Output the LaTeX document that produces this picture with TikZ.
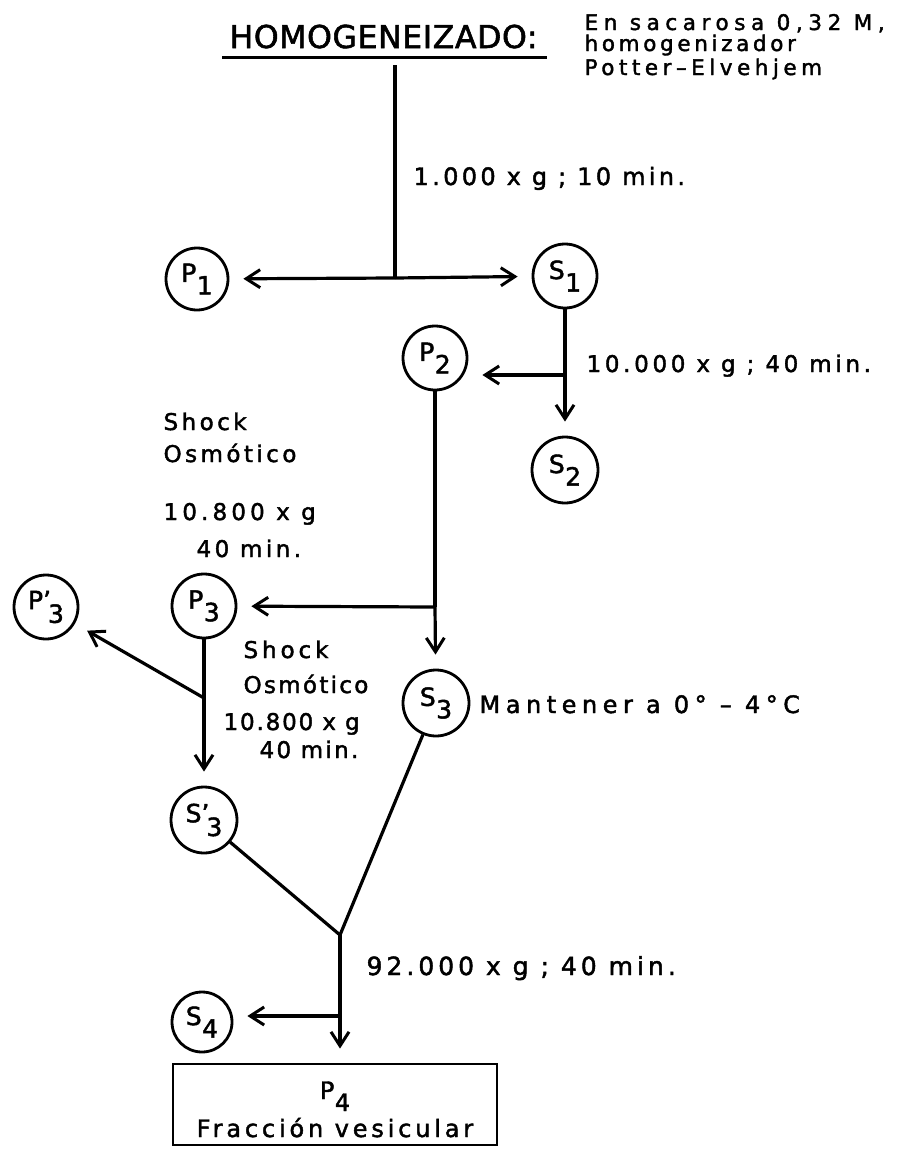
\documentclass[tikz,border=0pt]{standalone}
\usepackage{fontspec}
\setmainfont{DejaVu Sans}[FakeBold=1.8]
\usetikzlibrary{arrows.meta}
\newcommand\fsz[1]{\fontsize{#1}{#1}\selectfont}
\newcommand\ls[1]{\addfontfeature{LetterSpace=#1,FakeBold=1.8}}
\newcommand\subs[2]{#1\kern0.5pt\raisebox{-0.5em}{#2}}
\newcommand\subp[2]{#1'\kern-0.12em\raisebox{-0.55em}{#2}}
\begin{document}
\begin{tikzpicture}[x=1pt,y=-1pt,
  line width=3.2pt,
  circ/.style={circle,draw,line width=2.8pt,minimum size=64pt,inner sep=0pt,font=\fsz{25}\ls{0}},
  txt/.style={anchor=base west,inner sep=0pt,font=\fsz{23}\ls{15}},
  arr/.style={-{Straight Barb[length=14pt,width=18pt,line width=3pt]},shorten >=14pt}]
\useasboundingbox (0,0) rectangle (907,1159);
% header
\node[txt,font=\fsz{31.5}\ls{2}] (hom) at (228,48) {HOMOGENEIZADO:};
\draw[line width=3pt] (hom.base west) ++(-6,9) coordinate (ul1) -- ++(325,0) coordinate (ul2);
\node[txt,font=\fsz{21.5}\ls{26}] (h1) at (583,30) {En sacarosa 0,32 M,};
\node[txt,font=\fsz{21.5}\ls{17}] (h2) at (583,51) {homogenizador};
\node[txt,font=\fsz{21.5}\ls{21}] (h3) at (583,75) {Potter–Elvehjem};
% labels
\node[txt,font=\fsz{24}\ls{14}] (l1) at (412,185) {1.000 x g ; 10 min.};
\node[txt,font=\fsz{23}\ls{16}] (l2) at (585,372) {10.000 x g ; 40 min.};
\node[txt] (l3a) at (162,430) {Shock};
\node[txt] (l3b) at (162,462) {Osmótico};
\node[txt,font=\fsz{23}\ls{18}] (l3c) at (162,520) {10.800 x g};
\node[txt] (l3d) at (195,557) {40 min.};
\node[txt,font=\fsz{23}\ls{17}] (l4a) at (242,658) {Shock};
\node[txt,font=\fsz{23}\ls{10}] (l4b) at (242,693) {Osmótico};
\node[txt,font=\fsz{23}\ls{8}] (l4c) at (222,730) {10.800 x g};
\node[txt,font=\fsz{23}\ls{10}] (l4d) at (258,758) {40 min.};
\node[txt,font=\fsz{24}\ls{23}] (l5) at (478,713) {Mantener a 0° – 4°C};
\node[txt,font=\fsz{25}\ls{16}] (l6) at (365,975) {92.000 x g ; 40 min.};
% circles
\node[circ,minimum size=62pt] (P1) at (197,279) {\subs{P}{1}};
\node[circ] (S1) at (565,276) {\subs{S}{1}};
\node[circ] (P2) at (435,358) {\subs{P}{2}};
\node[circ,minimum size=66pt] (S2) at (565,470) {\subs{S}{2}};
\node[circ] (P3) at (204,606) {\subs{P}{3}};
\node[circ] (P3p) at (46,607) {\subp{P}{3}};
\node[circ,minimum size=66pt] (S3) at (436,703) {\subs{S}{3}};
\node[circ,minimum size=66pt] (S3p) at (204,820) {\subp{S}{3}};
\node[circ,minimum size=60pt] (S4) at (202,1022) {\subs{S}{4}};
\node[draw,line width=2.8pt,minimum width=324pt,minimum height=81pt,inner sep=0pt] (P4) at (335,1104.5) {};
\node[anchor=base,inner sep=0pt,font=\fsz{24}\ls{0}] (P4a) at (335,1099) {\subs{P}{4}};
\node[anchor=base,inner sep=0pt,font=\fsz{24}\ls{16}] (P4b) at (335,1137) {Fracción vesicular};
% junctions
\coordinate (t0) at (395,65);
\coordinate (j1) at (395,278);
\coordinate (j2) at (565,375);
\coordinate (j3) at (435,607);
\coordinate (j4) at (204,698);
\coordinate (j5) at (340,935);
\coordinate (j6) at (340,1016);
% connectors
\draw (t0) -- (j1);
\draw[arr] (j1) -- (P1);
\draw[arr] (j1) -- (S1);
\draw (S1) -- (j2);
\draw[arr] (j2) -- (S2);
\draw[arr] (j2) -- (j2 -| P2.east);
\draw (P2) -- (j3);
\draw[arr] (j3) -- (P3);
\draw[arr] (j3) -- (S3);
\draw (P3) -- (j4);
\draw[arr] (j4) -- (P3p);
\draw[arr] (j4) -- (S3p);
\draw (S3p) -- (j5);
\draw (S3) -- (j5);
\draw (j5) -- (j6);
\draw[arr] (j6) -- (j6 -| S4.east);
\draw[arr] (j6) -- (j6 |- P4.north);
\end{tikzpicture}
\end{document}
